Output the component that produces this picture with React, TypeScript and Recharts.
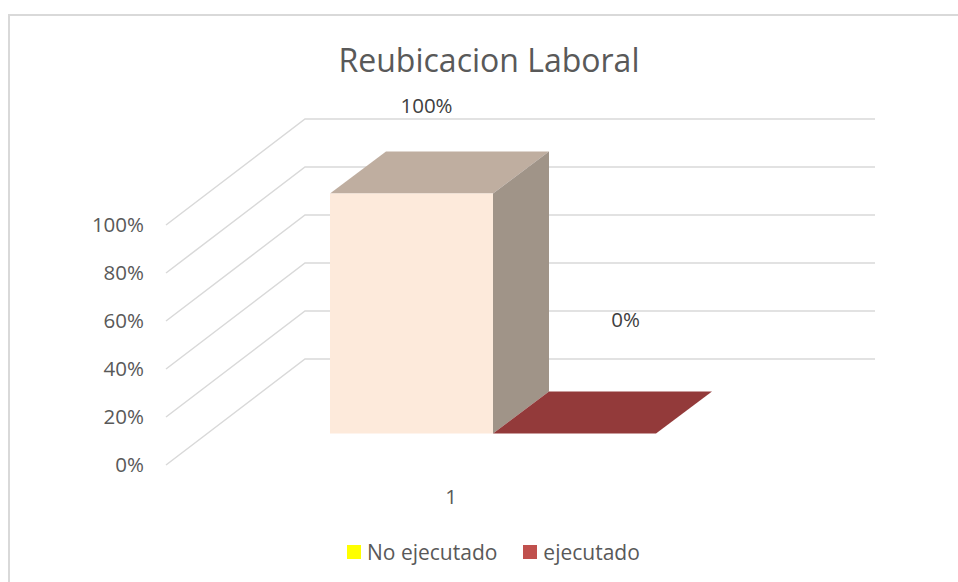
import React from 'react';
import { BarChart, Bar, XAxis, YAxis, CartesianGrid, Legend, LabelList } from 'recharts';

const categories = ['1'];
const noEjecutado = [1];
const ejecutado = [0];
const percentTicks = [0, 0.2, 0.4, 0.6, 0.8, 1];

const data = categories.map((name, i) => ({
  name,
  noEjecutado: noEjecutado[i],
  ejecutado: ejecutado[i],
}));

const FONT = '"Open Sans", sans-serif';
const TEXT = '#595959';
const pct = (v: number) => `${Math.round(v * 100)}%`;

// 3D projection, in pixels
const WALL_DX = 139;
const WALL_DY = -106;
const BAR_DX = 42;
const BAR_DY = -31.5;
const DEPTH_DX = 56;
const DEPTH_DY = -42;

const GridLine = ({ x1, y1, x2, y2 }: any) => (
  <polyline
    points={`${x1},${y1} ${x1 + WALL_DX},${y1 + WALL_DY} ${x2 + WALL_DX},${y2 + WALL_DY}`}
    fill="none"
    stroke="#d9d9d9"
    strokeWidth={1.5}
  />
);

const Box3D = (faces: { front: string; top: string; side: string }) => (props: any) => {
  const x = props.x + BAR_DX;
  const y = props.y + BAR_DY;
  const { width: w, height: h } = props;
  return (
    <g>
      <polygon
        points={`${x},${y} ${x + w},${y} ${x + w + DEPTH_DX},${y + DEPTH_DY} ${x + DEPTH_DX},${y + DEPTH_DY}`}
        fill={faces.top}
      />
      {h > 0 && (
        <>
          <polygon
            points={`${x + w},${y} ${x + w + DEPTH_DX},${y + DEPTH_DY} ${x + w + DEPTH_DX},${y + h + DEPTH_DY} ${x + w},${y + h}`}
            fill={faces.side}
          />
          <rect x={x} y={y} width={w} height={h} fill={faces.front} />
        </>
      )}
    </g>
  );
};

const dataLabel = (dx: number, dy: number, color: string) => (props: any) => (
  <text
    x={props.x + props.width / 2 + dx}
    y={props.y + dy}
    textAnchor="middle"
    dominantBaseline="central"
    fontFamily={FONT}
    fontSize={20.5}
    fill={color}
  >
    {pct(props.value)}
  </text>
);

const LegendRow = ({ payload }: any) => (
  <div style={{ display: 'flex', fontFamily: FONT, fontSize: 21, color: TEXT, lineHeight: '28px' }}>
    {(payload || []).map((item: any) => (
      <div key={item.value} style={{ display: 'flex', alignItems: 'center', marginRight: 26 }}>
        <span style={{ width: 14, height: 14, background: item.color, marginRight: 6 }} />
        {item.value}
      </div>
    ))}
  </div>
);

export default function App() {
  return (
    <div style={{ position: 'absolute', left: 0, top: 0, width: 958, height: 582, background: '#fff' }}>
      <div
        style={{
          position: 'absolute',
          left: 8,
          top: 14,
          width: 950,
          height: 568,
          borderLeft: '2px solid #d9d9d9',
          borderTop: '2px solid #d9d9d9',
          boxSizing: 'border-box',
        }}
      />
      <div
        style={{
          position: 'absolute',
          left: 289,
          width: 400,
          top: 38,
          textAlign: 'center',
          fontFamily: FONT,
          fontSize: 32,
          lineHeight: '44px',
          color: TEXT,
        }}
      >
        Reubicacion Laboral
      </div>
      <BarChart
        width={958}
        height={582}
        data={data}
        barGap={0}
        margin={{ top: 225, right: 222, bottom: 60, left: 96 }}
        style={{ position: 'absolute', left: 0, top: 0 }}
      >
        <CartesianGrid vertical={false} horizontal={(p: any) => <GridLine key={p.index} {...p} />} />
        <XAxis
          dataKey="name"
          height={57}
          axisLine={false}
          tickLine={false}
          tickMargin={18}
          tick={{ fontFamily: FONT, fontSize: 20.5, fill: TEXT }}
        />
        <YAxis
          width={70}
          domain={[0, 1]}
          ticks={percentTicks}
          tickFormatter={pct}
          axisLine={false}
          tickLine={false}
          tickSize={0}
          tickMargin={22}
          tick={{ fontFamily: FONT, fontSize: 20.5, fill: TEXT }}
        />
        <Legend
          verticalAlign="middle"
          layout="horizontal"
          content={<LegendRow />}
          wrapperStyle={{ position: 'absolute', left: 347, top: 538, width: 400, height: 28 }}
        />
        <Bar
          dataKey="noEjecutado"
          name="No ejecutado"
          fill="#ffff00"
          barSize={163}
          isAnimationActive={false}
          shape={Box3D({ front: '#fdeadb', top: '#bfaea0', side: '#a09488' })}
        >
          <LabelList dataKey="noEjecutado" content={dataLabel(57, -120, '#404040')} />
        </Bar>
        <Bar
          dataKey="ejecutado"
          name="ejecutado"
          fill="#c0504d"
          barSize={163}
          isAnimationActive={false}
          shape={Box3D({ front: '#c0504d', top: '#933a3a', side: '#933a3a' })}
        >
          <LabelList dataKey="ejecutado" content={dataLabel(93, -146, '#404040')} />
        </Bar>
      </BarChart>
    </div>
  );
}
